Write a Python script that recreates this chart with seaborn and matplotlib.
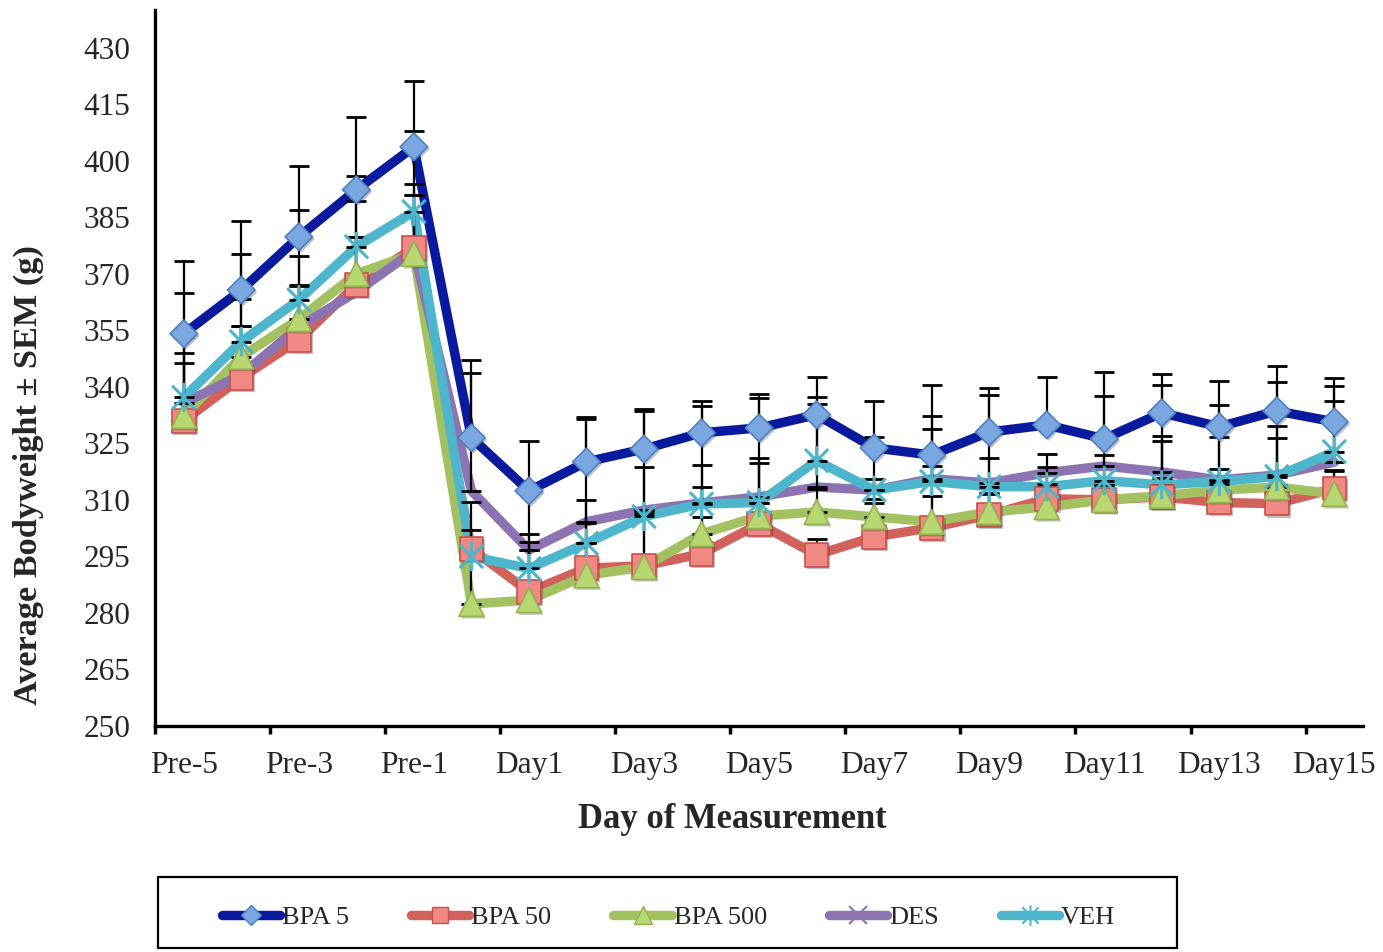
import numpy as np
import pandas as pd
import matplotlib
matplotlib.use("Agg")
import matplotlib.pyplot as plt
import matplotlib.patheffects as pe
from matplotlib.path import Path
from matplotlib.lines import Line2D
from matplotlib.patches import Rectangle
import seaborn as sns

# Measurement days (pre-treatment and treatment days)
days = ["Pre-5", "Pre-4", "Pre-3", "Pre-2", "Pre-1", "Day0",
        "Day1", "Day2", "Day3", "Day4", "Day5", "Day6", "Day7", "Day8",
        "Day9", "Day10", "Day11", "Day12", "Day13", "Day14", "Day15"]
tick_labels = ["Pre-5", "Pre-3", "Pre-1", "Day1", "Day3", "Day5",
               "Day7", "Day9", "Day11", "Day13", "Day15"]

# Mean bodyweight (g) and SEM per group
bpa5 = [354.1, 365.7, 379.8, 392.3, 403.7, 326.5, 312.4, 320.1, 323.5, 327.8, 329.1,
        332.6, 323.8, 321.9, 328.0, 329.9, 326.2, 333.1, 329.4, 333.6, 330.7]
bpa5_sem = [19.4, 18.4, 18.9, 19.4, 17.5, 20.7, 13.3, 12.0, 10.6, 8.5, 8.9,
            9.9, 12.4, 18.6, 11.6, 12.7, 17.7, 10.3, 12.2, 12.0, 11.6]

bpa50 = [331.0, 342.4, 352.5, 367.1, 376.9, 297.0, 285.6, 291.9, 292.5, 295.7, 303.6,
         295.4, 300.2, 302.6, 306.0, 310.3, 310.0, 310.8, 309.3, 309.0, 313.0]
bpa50_sem = [15.4, 13.8, 14.3, 12.6, 14.1, 12.5, 15.4, 12.0, 14.0, 9.7, 5.5,
             4.2, 10.0, 8.3, 5.5, 4.0, 4.0, 5.0, 5.0, 5.0, 5.0]

bpa500 = [332.3, 348.0, 358.0, 370.0, 375.3, 282.4, 283.4, 290.0, 292.2, 301.0, 305.7,
          306.8, 305.5, 304.2, 306.8, 308.1, 310.0, 311.1, 312.6, 313.4, 311.6]
bpa500_sem = [16.6, 15.3, 16.6, 19.2, 18.5, 13.6, 15.3, 8.5, 15.0, 12.5, 14.2,
              6.0, 3.8, 14.8, 5.0, 5.0, 4.0, 14.6, 5.6, 13.0, 6.0]

des = [335.7, 343.2, 355.9, 365.2, 376.1, 312.4, 296.7, 304.2, 307.3, 309.2, 310.8,
       313.4, 312.6, 315.6, 314.5, 317.2, 319.0, 317.4, 315.3, 316.6, 320.0]
des_sem = [17.5, 13.0, 11.0, 14.5, 14.9, 31.4, 15.7, 27.2, 26.3, 25.6, 26.3,
           22.0, 14.0, 16.7, 23.4, 4.9, 18.5, 23.1, 19.9, 24.8, 20.3]

veh = [337.2, 352.0, 363.1, 377.2, 386.5, 295.0, 291.8, 298.5, 305.6, 308.9, 309.3,
       320.4, 312.6, 314.9, 313.5, 313.5, 315.1, 314.0, 314.9, 316.2, 322.8]
veh_sem = [27.8, 23.3, 23.9, 18.8, 21.5, 7.0, 5.0, 11.5, 13.1, 10.4, 11.8,
           16.8, 3.0, 13.9, 7.6, 5.3, 6.9, 13.0, 11.7, 13.4, 13.5]

groups = ["BPA 5", "BPA 50", "BPA 500", "DES", "VEH"]
means = [bpa5, bpa50, bpa500, des, veh]
sems = [bpa5_sem, bpa50_sem, bpa500_sem, des_sem, veh_sem]

# Asterisk-like marker: an "x" with a vertical stroke through it
star_path = Path([(-1, -1), (1, 1), (-1, 1), (1, -1), (0, -1.25), (0, 1.25)],
                 [Path.MOVETO, Path.LINETO, Path.MOVETO, Path.LINETO,
                  Path.MOVETO, Path.LINETO])

styles = {
    "BPA 5":   dict(line="#0a1a9e", marker="D", face="#7aa7e0", edge="#4f7fc0", size=14),
    "BPA 50":  dict(line="#d0625b", marker="s", face="#f08983", edge="#c8504b", size=17),
    "BPA 500": dict(line="#a4c162", marker="^", face="#b8d672", edge="#93b451", size=18),
    "DES":     dict(line="#8c73b1", marker="x", face="none", edge="#8c73b1", size=19),
    "VEH":     dict(line="#4db6cd", marker=star_path, face="none", edge="#4db6cd", size=21),
}

x = np.arange(len(days))
df = pd.DataFrame({
    "pos": np.tile(x, len(groups)),
    "day": np.tile(days, len(groups)),
    "group": np.repeat(groups, len(days)),
    "weight": np.concatenate(means),
    "sem": np.concatenate(sems),
})

sns.set_theme(style="white")
plt.rcParams["font.family"] = ["Liberation Serif", "DejaVu Serif"]

fig = plt.figure(figsize=(13.83, 9.52), dpi=100)
ax = fig.add_axes([0.1121, 0.2374, 0.8735, 0.7521])

palette = {g: styles[g]["line"] for g in groups}
sns.lineplot(data=df, x="pos", y="weight", hue="group", hue_order=groups,
             palette=palette, linewidth=6.8, legend=False, sort=False,
             estimator=None, ax=ax, zorder=2)

# Upper SEM error bars
for g in groups:
    sub = df[df["group"] == g]
    ax.errorbar(sub["pos"], sub["weight"],
                yerr=[np.zeros(len(sub)), sub["sem"]],
                fmt="none", ecolor="black", elinewidth=1.6,
                capsize=7, capthick=2.0, zorder=2.5)

for g in groups:
    st = styles[g]
    sub = df[df["group"] == g]
    filled = st["face"] != "none"
    kws = dict(marker=st["marker"], s=st["size"] ** 2, zorder=3, ax=ax, legend=False)
    if filled:
        kws.update(color=st["face"], edgecolor=st["edge"], linewidth=1.2)
    else:
        kws.update(color=st["edge"], facecolor="none", edgecolor=st["edge"], linewidth=2.2)
    coll = sns.scatterplot(x=sub["pos"], y=sub["weight"], **kws).collections[-1]
    coll.set_path_effects([pe.SimplePatchShadow(offset=(1.5, -1.5), alpha=0.3), pe.Normal()])

# Axes styling
ax.set_xlim(-0.5, len(days) - 0.5)
ax.set_ylim(250, 440)
ax.set_yticks(np.arange(250, 431, 15))
ax.tick_params(axis="y", length=0, pad=18, labelsize=22.5)

ax.set_xticks(np.arange(-0.5, len(days) - 1, 2))
ax.set_xticklabels([])
ax.set_xticks(np.arange(0, len(days), 2), minor=True)
ax.set_xticklabels(tick_labels, minor=True)
ax.tick_params(axis="x", which="major", direction="out", length=6, width=2.5,
               color="black", bottom=True)
ax.tick_params(axis="x", which="minor", length=0, pad=18, labelsize=22.6, bottom=True)

for side in ["top", "right"]:
    ax.spines[side].set_visible(False)
for side in ["left", "bottom"]:
    ax.spines[side].set_color("black")
    ax.spines[side].set_linewidth(2.4)

ax.set_xlabel("Day of Measurement", fontsize=24.9, fontweight="bold")
ax.xaxis.set_label_coords(0.478, -0.108)
ax.set_ylabel("Average Bodyweight \u00b1 SEM (g)", fontsize=24.7, fontweight="bold")
ax.yaxis.set_label_coords(-0.092, 0.35)
ax.grid(False)

# Legend below the plot, inside a plain rectangular box
handles = []
for g in groups:
    st = styles[g]
    handles.append(Line2D([0], [0], color=st["line"], linewidth=6.8,
                          solid_capstyle="round", marker=st["marker"],
                          markersize=st["size"] * 0.7,
                          markerfacecolor=st["face"] if st["face"] != "none" else st["edge"],
                          markeredgecolor=st["edge"],
                          markeredgewidth=1.0 if st["face"] != "none" else 1.5))
leg = fig.legend(handles, groups, loc="center left", ncol=5,
                 bbox_to_anchor=(222 / 1383, 1 - 917 / 952),
                 fontsize=19, frameon=False, handlelength=2.2,
                 handletextpad=0.08, columnspacing=2.35,
                 borderpad=0, borderaxespad=0)
fig.add_artist(Rectangle((158 / 1383, 4 / 952), 1019 / 1383, 71 / 952,
                         transform=fig.transFigure, fill=False,
                         edgecolor="black", linewidth=1.6))

fig.savefig("out.png", dpi=100)
